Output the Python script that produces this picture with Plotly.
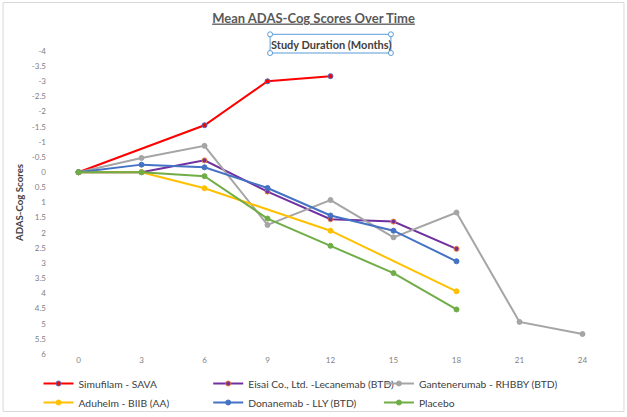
import plotly.graph_objects as go

months = [0, 3, 6, 9, 12, 15, 18, 21, 24]
tick_labels = ["0", "3", "6", "9", "12", "15", "18", "21", "24"]

simufilam = [0, None, -1.55, -3.0, -3.17, None, None, None, None]
lecanemab = [0, 0, -0.39, 0.64, 1.55, 1.63, 2.53, None, None]
gantenerumab = [0, -0.47, -0.87, 1.74, 0.92, 2.15, 1.33, 4.94, 5.34]
aduhelm = [0, 0, 0.53, None, 1.93, None, 3.93, None, None]
donanemab = [0, -0.25, -0.16, 0.52, 1.43, 1.93, 2.94, None, None]
placebo = [0, 0, 0.13, 1.53, 2.43, 3.33, 4.53, None, None]

y_ticks = [-4, -3.5, -3, -2.5, -2, -1.5, -1, -0.5, 0, 0.5, 1, 1.5, 2, 2.5, 3, 3.5, 4, 4.5, 5, 5.5, 6]

# (name, values, line colour, marker edge colour, legend column)
series = [
    ("Simufilam - SAVA", simufilam, "#FF0000", "#4472C4", "legend"),
    ("Eisai Co., Ltd. -Lecanemab (BTD)", lecanemab, "#7030A0", "#ED7D31", "legend2"),
    ("Gantenerumab - RHBBY (BTD)", gantenerumab, "#A5A5A5", "#A5A5A5", "legend3"),
    ("Aduhelm - BIIB (AA)", aduhelm, "#FFC000", "#FFC000", "legend"),
    ("Donanemab - LLY (BTD)", donanemab, "#4472C4", "#4472C4", "legend2"),
    ("Placebo", placebo, "#70AD47", "#70AD47", "legend3"),
]

W, H = 627, 417
L, R, T, B = 46.5, 12.5, 51, 63
PW = W - L - R
PH = H - T - B


def px(xp):
    return (xp - L) / PW


def py(yp):
    return (H - B - yp) / PH


fig = go.Figure()
for name, vals, col, mcol, leg in series:
    fig.add_trace(go.Scatter(
        x=months, y=vals, name=name, mode="lines+markers",
        connectgaps=True, legend=leg,
        line=dict(color=col, width=2),
        marker=dict(size=5, color=col, line=dict(color=mcol, width=1)),
    ))

font_family = "Lato, 'Open Sans', sans-serif"
leg_common = dict(orientation="v", xanchor="left", y=py(369), yanchor="top",
                  itemwidth=30, font=dict(size=10.3, color="#404040"),
                  bgcolor="rgba(0,0,0,0)")

fig.update_layout(
    width=W, height=H,
    margin=dict(l=L, r=R, t=T, b=B, autoexpand=False),
    paper_bgcolor="white", plot_bgcolor="white",
    font=dict(family=font_family, color="#404040"),
    title=dict(text="<b><u>Mean ADAS-Cog Scores Over Time</u></b>",
               x=0.5, xref="container", xanchor="center",
               y=1 - 18 / H, yref="container", yanchor="middle",
               font=dict(size=13, color="#595959")),
    xaxis=dict(range=[-1.5, 25.5], tickmode="array", tickvals=months, ticktext=tick_labels,
               showgrid=False, zeroline=False, showline=False, ticks="",
               tickfont=dict(size=8, color="#7F7F7F")),
    yaxis=dict(range=[6, -4], tickmode="array", tickvals=y_ticks,
               ticktext=[f"{v:g}" for v in y_ticks],
               showgrid=False, zeroline=False, showline=False, ticks="",
               tickfont=dict(size=8, color="#7F7F7F"),
               title=dict(text="<b>ADAS-Cog Scores</b>", font=dict(size=9.7, color="#404040"),
                          standoff=6)),
    legend=dict(x=px(38), **leg_common),
    legend2=dict(x=px(208), **leg_common),
    legend3=dict(x=px(379), **leg_common),
    showlegend=True,
)

# Text box label with selection handles
fig.add_annotation(
    text="<b>Study Duration (Months)</b>", xref="paper", yref="paper",
    x=px(330.5), y=py(44), xanchor="center", yanchor="middle", showarrow=False,
    font=dict(size=11, color="#404040"),
)
fig.add_shape(type="rect", xref="paper", yref="paper",
              x0=px(270), x1=px(391), y0=py(34.3), y1=py(53),
              line=dict(color="#5B9BD5", width=1))
for cx in (270, 391):
    for cy in (34.3, 53):
        fig.add_shape(type="circle", xref="paper", yref="paper",
                      xsizemode="pixel", ysizemode="pixel",
                      xanchor=px(cx), yanchor=py(cy),
                      x0=-2.5, x1=2.5, y0=-2.5, y1=2.5,
                      fillcolor="white", line=dict(color="#5B9BD5", width=1))

# chart outer border
fig.add_shape(type="rect", xref="paper", yref="paper",
              x0=px(2.5), x1=px(624.5), y0=py(2.5), y1=py(411.5),
              line=dict(color="#D9D9D9", width=1), layer="below")

fig.write_html("out.html", config={"displayModeBar": False},
               post_script="document.body.style.margin='0';")
